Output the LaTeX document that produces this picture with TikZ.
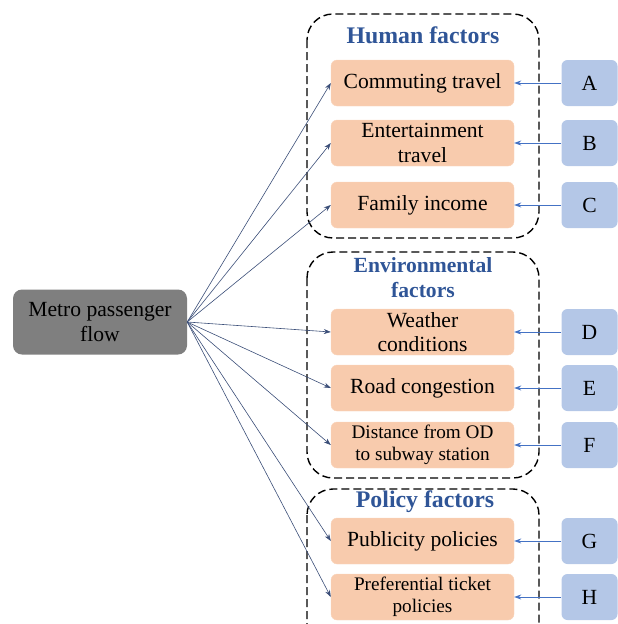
\documentclass[tikz,border=0pt]{standalone}
\usepackage{fontspec}
\setmainfont{Liberation Serif}
\usetikzlibrary{arrows.meta}
\definecolor{factorfill}{HTML}{F8CBAD}
\definecolor{letterfill}{HTML}{B4C7E7}
\definecolor{mainfill}{HTML}{7F7F7F}
\definecolor{titleblue}{HTML}{2F5597}
\definecolor{linkblue}{HTML}{4472C4}
\definecolor{flowline}{HTML}{3B4E78}
\begin{document}
\begin{tikzpicture}[x=1pt,y=-1pt,
    factor/.style={rectangle,rounded corners=6pt,fill=factorfill,draw=factorfill!80!white,
      minimum width=183pt,minimum height=46pt,inner sep=0pt,align=center,
      font=\fontsize{21.6}{24.5}\selectfont},
    small/.style={font=\fontsize{19.2}{22.5}\selectfont},
    letter/.style={rectangle,rounded corners=6pt,fill=letterfill,
      minimum width=56pt,minimum height=46pt,inner sep=0pt,
      font=\fontsize{21.6}{24.5}\selectfont},
    groupbox/.style={draw=black,line width=1.4pt,dash pattern=on 8pt off 4pt,rounded corners=26pt},
    grouptitle/.style={text=titleblue,align=center,font=\bfseries\fontsize{23.8}{25}\selectfont},
    flow/.style={draw=flowline,line width=0.6pt,-{Stealth[length=7pt,width=5pt]}},
    link/.style={draw=linkblue,line width=0.8pt,-{Stealth[length=7pt,width=5pt]}}]
  \useasboundingbox (0,0) rectangle (618,624);
  % groups
  \draw[groupbox] (307,14) rectangle (539,238);
  \draw[groupbox] (307,252) rectangle (539,478);
  \draw[groupbox] (307,489) rectangle (539,650);
  \draw
    (423,35) node[grouptitle] (th){Human factors}
    (423,278) node[grouptitle,font=\bfseries\fontsize{21.6}{25}\selectfont] (te){Environmental\\factors}
    (425,502) node[grouptitle] (tp){Policy factors};
  % main node
  \draw (100,322) node[rectangle,rounded corners=9pt,fill=mainfill,minimum width=174pt,
      minimum height=65pt,align=center,font=\fontsize{21.6}{24.5}\selectfont] (m){Metro passenger\\flow};
  % factors
  \draw
    (422.5,83) node[factor] (f1){Commuting travel}
    (422.5,143) node[factor] (f2){Entertainment\\travel}
    (422.5,205) node[factor] (f3){Family income}
    (422.5,332) node[factor] (f4){Weather\\conditions}
    (422.5,388) node[factor] (f5){Road congestion}
    (422.5,445) node[factor,small] (f6){Distance from OD\\to subway station}
    (422.5,541) node[factor] (f7){Publicity policies}
    (422.5,597) node[factor,small] (f8){Preferential ticket\\policies};
  \draw
    (589.5,83) node[letter] (a){A}
    (589.5,143) node[letter] (b){B}
    (589.5,205) node[letter] (c){C}
    (589.5,332) node[letter] (d){D}
    (589.5,388) node[letter] (e){E}
    (589.5,445) node[letter] (f){F}
    (589.5,541) node[letter] (g){G}
    (589.5,597) node[letter] (h){H};
  \begin{scope}[flow]
    \foreach \i in {1,...,8}
      \draw (m.east) to (f\i.west);
  \end{scope}
  \begin{scope}[link]
    \draw (a) to (f1);
    \draw (b) to (f2);
    \draw (c) to (f3);
    \draw (d) to (f4);
    \draw (e) to (f5);
    \draw (f) to (f6);
    \draw (g) to (f7);
    \draw (h) to (f8);
  \end{scope}
\end{tikzpicture}
\end{document}
